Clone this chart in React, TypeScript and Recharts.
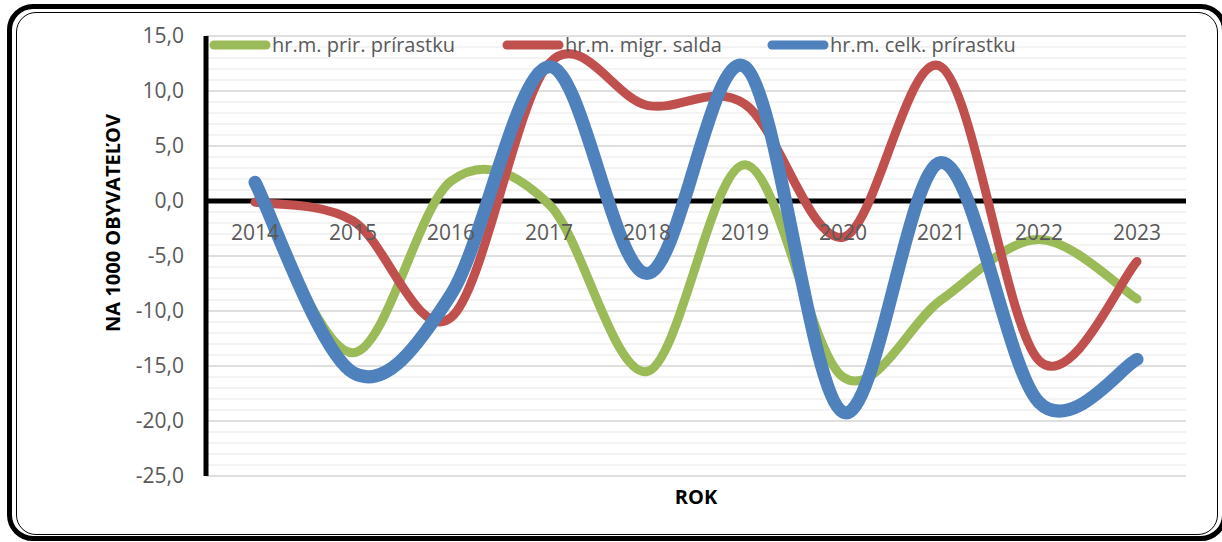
import React from "react";
import {
    LineChart, Line, XAxis, YAxis, CartesianGrid, Legend, ReferenceLine, ReferenceDot
} from "recharts";

const years = ["2014", "2015", "2016", "2017", "2018", "2019", "2020", "2021", "2022", "2023"];
const prirastok = [1.4, -13.8, 1.8, -0.3, -15.5, 3.3, -16.0, -9.0, -3.5, -8.9];
const migracia = [-0.1, -1.8, -10.6, 12.5, 8.7, 8.8, -3.3, 12.2, -14.5, -5.5];
const celkovy = [1.7, -15.6, -8.5, 12.2, -6.6, 12.2, -19.2, 3.5, -18.3, -14.4];
const seriesNames = ["hr.m. prir. prírastku", "hr.m. migr. salda", "hr.m. celk. prírastku"];
const yTicks = [-25, -20, -15, -10, -5, 0, 5, 10, 15];

const chartData = years.map((rok, i) => ({
    rok,
    prir: prirastok[i],
    migr: migracia[i],
    celk: celkovy[i]
}));

// minor gridlines every 1 unit
const minorGrid = Array.from({ length: 41 }, (_, i) => i - 25);

const FONT = "'Open Sans', sans-serif";
const GRAY = "#595959";

// excel-like smoothing (catmull-rom through the points)
const smoothCurve = (ctx: any) => {
    let pts: number[][] = [];
    return {
        areaStart() { },
        areaEnd() { },
        lineStart() { pts = []; },
        point(x: number, y: number) { pts.push([x, y]); },
        lineEnd() {
            if (!pts.length) return;
            ctx.moveTo(pts[0][0], pts[0][1]);
            for (let i = 0; i < pts.length - 1; i++) {
                const p0 = pts[i - 1] || pts[i];
                const p1 = pts[i];
                const p2 = pts[i + 1];
                const p3 = pts[i + 2] || p2;
                ctx.bezierCurveTo(
                    p1[0] + (p2[0] - p0[0]) / 6, p1[1] + (p2[1] - p0[1]) / 6,
                    p2[0] - (p3[0] - p1[0]) / 6, p2[1] - (p3[1] - p1[1]) / 6,
                    p2[0], p2[1]
                );
            }
        }
    };
};

const legendWidths = [293, 265, 260];

const LegendContent = ({ payload }: any) => {
    const items = [...(payload || [])].sort(
        (a: any, b: any) => seriesNames.indexOf(a.value) - seriesNames.indexOf(b.value)
    );
    return (
        <div style={{ display: "flex", fontFamily: FONT, fontSize: 20, color: GRAY }}>
            {items.map((entry: any, i: number) => (
                <div key={entry.value} style={{ display: "flex", alignItems: "center", width: legendWidths[i] }}>
                    <svg width={62} height={12}>
                        <line x1={5} y1={6} x2={57} y2={6} stroke={entry.color} strokeWidth={9} strokeLinecap="round" />
                    </svg>
                    <span style={{ marginLeft: 1 }}>{entry.value}</span>
                </div>
            ))}
        </div>
    );
};

const YLabel = ({ viewBox }: any) => {
    const x = viewBox.x + 6;
    const y = 223;
    return (
        <text x={x} y={y} transform={`rotate(-90, ${x}, ${y})`} textAnchor="middle" dominantBaseline="central"
            fontFamily={FONT} fontWeight="bold" fontSize={20} fill="#000">
            NA 1000 OBYVATEĽOV
        </text>
    );
};

export default function App() {
    return (
        <div style={{ position: "absolute", left: 0, top: 0, width: 1222, height: 542, background: "#fff", overflow: "hidden" }}>
            <div style={{
                position: "absolute", left: 7, top: 4, width: 1220, height: 537,
                border: "5px solid #000", borderRadius: 26, boxSizing: "border-box"
            }} />
            <div style={{
                position: "absolute", left: 16, top: 12, width: 1202, height: 523,
                border: "1.5px solid #000", borderRadius: 20, boxSizing: "border-box"
            }} />
            <div style={{ position: "absolute", left: 0, top: 0 }}>
                <LineChart width={1222} height={542} data={chartData}
                    margin={{ top: 36, right: 36, bottom: 16, left: 106 }}>
                    <CartesianGrid vertical={false} horizontalValues={minorGrid} stroke="#EFEFEF" strokeWidth={1.5} />
                    <CartesianGrid vertical={false} horizontalValues={yTicks} stroke="#D9D9D9" strokeWidth={1.5} />
                    <XAxis dataKey="rok" height={50} padding={{ left: 49, right: 49 }} tick={false}
                        axisLine={false} tickLine={false}
                        label={{ value: "ROK", position: "insideBottom", offset: 22, fill: "#000", fontWeight: "bold", fontSize: 20, fontFamily: FONT }} />
                    <YAxis width={100} domain={[-25, 15]} ticks={yTicks} interval={0}
                        tickFormatter={(v: number) => v.toFixed(1).replace(".", ",")}
                        tick={{ fill: GRAY, fontSize: 21, fontFamily: FONT }}
                        tickLine={false} tickSize={0} tickMargin={22}
                        axisLine={{ stroke: "#000", strokeWidth: 5 }}
                        label={<YLabel />} />
                    <ReferenceLine y={0} stroke="#000" strokeWidth={5} />
                    {years.map((rok) => (
                        <ReferenceDot key={rok} x={rok} y={0} r={0} fill="none" stroke="none"
                            label={{ value: rok, position: "bottom", offset: 24, fill: GRAY, fontSize: 21, fontFamily: FONT }} />
                    ))}
                    <Legend verticalAlign="middle" align="center" layout="horizontal"
                        wrapperStyle={{ top: 31, left: 209, width: 900 }} content={<LegendContent />} />
                    <Line dataKey="prir" name={seriesNames[0]} type={smoothCurve as any} stroke="#9BBB59"
                        strokeWidth={9} strokeLinecap="round" dot={false} isAnimationActive={false} />
                    <Line dataKey="migr" name={seriesNames[1]} type={smoothCurve as any} stroke="#C0504D"
                        strokeWidth={9} strokeLinecap="round" dot={false} isAnimationActive={false} />
                    <Line dataKey="celk" name={seriesNames[2]} type={smoothCurve as any} stroke="#4F81BD"
                        strokeWidth={13} strokeLinecap="round" dot={false} isAnimationActive={false} />
                </LineChart>
            </div>
        </div>
    );
}
